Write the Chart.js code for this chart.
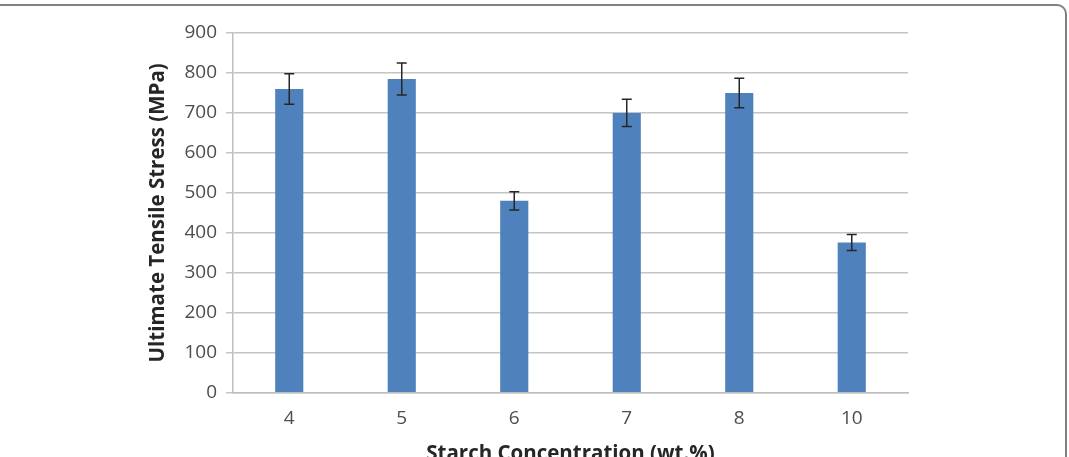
<!DOCTYPE html>
<html>
<head>
<meta charset="utf-8">
<script src="https://cdn.jsdelivr.net/npm/chart.js@4.4.0/dist/chart.umd.min.js"></script>
<style>
  html, body { margin: 0; padding: 0; background: #fff; overflow: hidden; }
  .frame {
    position: absolute; left: -10px; top: 4px; width: 1077px; height: 480px;
    border-top: 2px solid #808080; border-right: 2px solid #808080;
    border-top-right-radius: 10px; box-sizing: border-box;
  }
  .wrap { position: absolute; left: 0; top: 0; width: 1069px; height: 457px; }
</style>
</head>
<body>
<div class="frame"></div>
<div class="wrap"><canvas id="myChart" width="1069" height="457"></canvas></div>
<script>
const categories = ['4', '5', '6', '7', '8', '10'];
const stress = [760, 785, 480, 700, 750, 376];
const stressErr = [38, 40, 23, 34, 37, 20];
const yTicks = [0, 100, 200, 300, 400, 500, 600, 700, 800, 900];

const FONT = '"Open Sans", Lato, sans-serif';

// draws the +/- error bars on top of each bar
const errorBars = {
  id: 'errorBars',
  afterDatasetsDraw(chart) {
    const ctx = chart.ctx;
    const y = chart.scales.y;
    const meta = chart.getDatasetMeta(0);
    ctx.save();
    ctx.strokeStyle = '#262626';
    ctx.lineWidth = 1.5;
    meta.data.forEach((bar, i) => {
      const top = y.getPixelForValue(stress[i] + stressErr[i]);
      const bot = y.getPixelForValue(stress[i] - stressErr[i]);
      ctx.beginPath();
      ctx.moveTo(bar.x, top); ctx.lineTo(bar.x, bot);
      ctx.moveTo(bar.x - 5, top); ctx.lineTo(bar.x + 5, top);
      ctx.moveTo(bar.x - 5, bot); ctx.lineTo(bar.x + 5, bot);
      ctx.stroke();
    });
    ctx.restore();
  }
};

new Chart(document.getElementById('myChart'), {
  type: 'bar',
  data: {
    labels: categories,
    datasets: [{
      data: stress,
      backgroundColor: '#4f81bd',
      borderWidth: 0,
      barPercentage: 0.25,
      categoryPercentage: 1
    }]
  },
  options: {
    responsive: false,
    animation: false,
    events: [],
    layout: { padding: { left: 140, right: 161, top: 33, bottom: 0 } },
    plugins: { legend: { display: false }, tooltip: { enabled: false } },
    scales: {
      x: {
        afterFit: s => { s.height = 64.3; },
        grid: { display: false },
        border: { color: '#bfbfbf', width: 1.5 },
        ticks: { color: '#4d4d4d', font: { family: FONT, size: 19 }, padding: 6 },
        title: {
          display: true, text: 'Starch Concentration (wt.%)', color: '#262626',
          font: { family: FONT, size: 20.5, weight: 'bold' }, padding: { top: 0, bottom: -9 }
        }
      },
      y: {
        min: 0, max: 900,
        afterFit: s => { s.width = 93; },
        afterBuildTicks: s => { s.ticks = yTicks.map(v => ({ value: v })); },
        grid: { color: '#c4c4c4', lineWidth: 1.5, tickLength: 7 },
        border: { color: '#bfbfbf', width: 1.5 },
        ticks: { color: '#4d4d4d', font: { family: FONT, size: 19 }, padding: 9 },
        title: {
          display: true, text: 'Ultimate Tensile Stress (MPa)', color: '#262626',
          font: { family: FONT, size: 20.5, weight: 'bold' }, padding: { top: 6, bottom: 0 }
        }
      }
    }
  },
  plugins: [errorBars]
});
</script>
</body>
</html>
